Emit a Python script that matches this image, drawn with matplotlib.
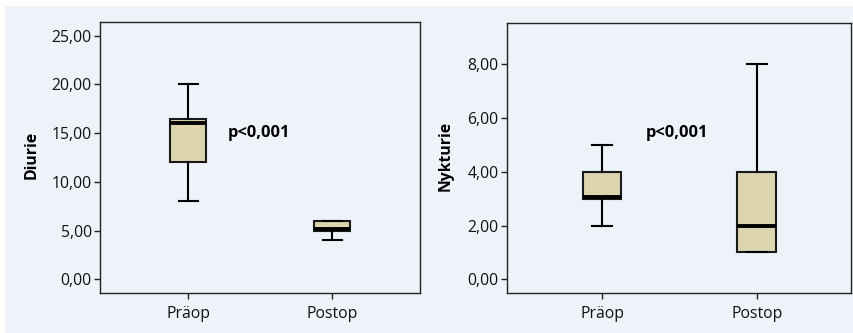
import matplotlib
matplotlib.use("Agg")
import matplotlib.pyplot as plt
from matplotlib.patches import Rectangle

categories = ["Präop", "Postop"]

# Diurie box stats: whislo, q1, med, q3, whishi
diurie_stats = [
    dict(whislo=8.0, q1=12.0, med=16.0, q3=16.5, whishi=20.0),
    dict(whislo=4.0, q1=5.0, med=5.15, q3=6.0, whishi=6.0),
]
nykturie_stats = [
    dict(whislo=2.0, q1=3.0, med=3.05, q3=4.0, whishi=5.0),
    dict(whislo=1.0, q1=1.0, med=2.0, q3=4.0, whishi=8.0),
]
diurie_ticks = [0, 5, 10, 15, 20, 25]
nykturie_ticks = [0, 2, 4, 6, 8]
p_text = "p<0,001"

W, H = 854, 333
fig = plt.figure(figsize=(W / 100, H / 100), dpi=100)
fig.patch.set_facecolor("white")
bg = "#eef2f9"
fig.add_artist(Rectangle((5 / W, 0), 1 - 5 / W, 1 - 6 / H, transform=fig.transFigure,
                         facecolor=bg, edgecolor="none", zorder=-10))

plt.rcParams["font.family"] = ["Open Sans", "DejaVu Sans"]
FS = 11.3

def fmt(v):
    return f"{v:.2f}".replace(".", ",")

def draw(ax, stats, ticks, ylim, ylabel, label_x, ptxt_xy):
    ax.set_facecolor(bg)
    for s, lab in zip(stats, categories):
        s["label"] = lab
        s["fliers"] = []
    ax.bxp(stats, positions=[1, 2], widths=0.25, patch_artist=True,
           showfliers=False,
           boxprops=dict(facecolor="#ddd5b0", edgecolor="#1a1a1a", linewidth=1.5),
           medianprops=dict(color="black", linewidth=2.8, solid_capstyle="butt"),
           whiskerprops=dict(color="black", linewidth=1.5),
           capprops=dict(color="black", linewidth=1.5),
           capwidths=0.13)
    ax.set_ylim(*ylim)
    ax.set_xlim(0.385, 2.61)
    ax.set_yticks(ticks)
    ax.set_yticklabels([fmt(t) for t in ticks], fontsize=FS, color="#111111")
    ax.set_xticks([1, 2])
    ax.set_xticklabels(categories, fontsize=FS, color="#111111")
    ax.set_ylabel(ylabel, fontsize=FS, fontweight="bold")
    ax.yaxis.set_label_coords(label_x, 0.51)
    for sp in ax.spines.values():
        sp.set_linewidth(1.0)
        sp.set_color("#222222")
    ax.tick_params(axis="y", length=4, width=1.0, color="#222222", pad=2)
    ax.tick_params(axis="x", length=4, width=1.0, color="#222222", pad=5)
    ax.text(ptxt_xy[0], ptxt_xy[1], p_text, fontsize=11.8, fontweight="bold",
            va="center", ha="left", transform=ax.transData)

ax1 = fig.add_axes([100 / W, 1 - 293 / H, 320 / W, 271 / H])
draw(ax1, diurie_stats, diurie_ticks, (-1.4, 26.4), "Diurie", -0.19, (1.275, 15.0))

ax2 = fig.add_axes([507 / W, 1 - 293.3 / H, 344 / W, 270 / H])
draw(ax2, nykturie_stats, nykturie_ticks, (-0.52, 9.52), "Nykturie", -0.154, (1.28, 5.44))

fig.savefig("out.png", dpi=100, facecolor=fig.get_facecolor())
